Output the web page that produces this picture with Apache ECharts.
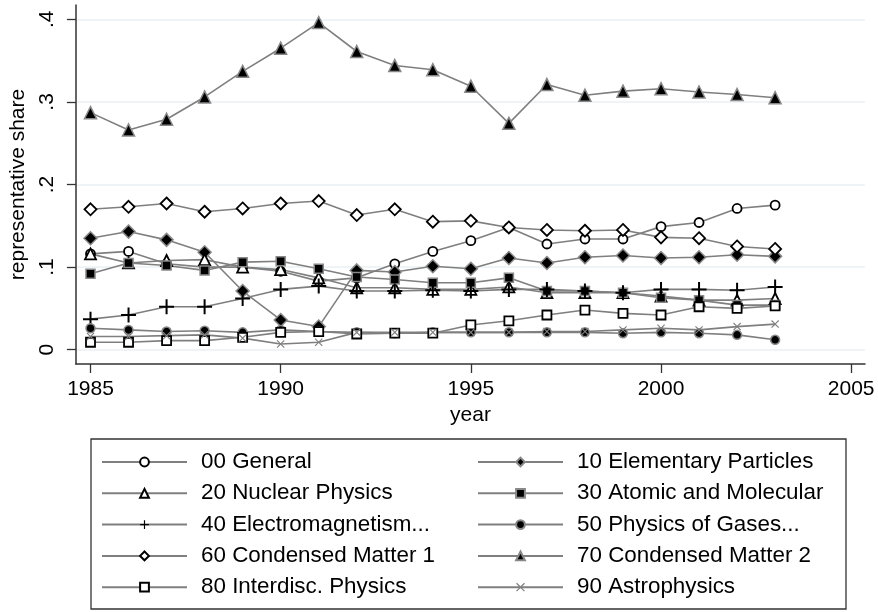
<!DOCTYPE html>
<html lang="en">
<head>
<meta charset="UTF-8">
<title>Representative share by field</title>
<script src="https://cdn.jsdelivr.net/npm/echarts@6/dist/echarts.min.js"></script>
<style>
  html, body { margin: 0; padding: 0; background: #fff; }
  #main { width: 878px; height: 612px; }
</style>
</head>
<body>
<div id="main"></div>
<script>
// years 1985..2003
var years = [1985, 1986, 1987, 1988, 1989, 1990, 1991, 1992, 1993, 1994, 1995, 1996, 1997, 1998, 1999, 2000, 2001, 2002, 2003];

var general      = [0.116, 0.119, 0.104, 0.100, 0.100, 0.095, 0.083, 0.087, 0.104, 0.119, 0.132, 0.148, 0.128, 0.134, 0.134, 0.149, 0.154, 0.171, 0.175];
var elementary   = [0.135, 0.143, 0.133, 0.118, 0.071, 0.036, 0.028, 0.096, 0.094, 0.101, 0.098, 0.111, 0.105, 0.112, 0.114, 0.111, 0.112, 0.115, 0.113];
var nuclear      = [0.116, 0.105, 0.108, 0.109, 0.100, 0.097, 0.087, 0.075, 0.075, 0.073, 0.073, 0.076, 0.069, 0.069, 0.069, 0.065, 0.060, 0.060, 0.062];
var atomic       = [0.092, 0.105, 0.102, 0.096, 0.106, 0.107, 0.098, 0.088, 0.085, 0.081, 0.081, 0.087, 0.071, 0.071, 0.069, 0.063, 0.060, 0.054, 0.054];
var electro      = [0.037, 0.042, 0.052, 0.052, 0.062, 0.073, 0.077, 0.071, 0.071, 0.072, 0.071, 0.073, 0.073, 0.071, 0.069, 0.073, 0.073, 0.072, 0.076];
var gases        = [0.026, 0.024, 0.022, 0.023, 0.021, 0.024, 0.022, 0.021, 0.020, 0.021, 0.021, 0.021, 0.021, 0.021, 0.020, 0.021, 0.020, 0.018, 0.012];
var condensed1   = [0.170, 0.173, 0.177, 0.167, 0.171, 0.177, 0.180, 0.163, 0.170, 0.155, 0.156, 0.148, 0.145, 0.144, 0.145, 0.136, 0.135, 0.125, 0.122];
var condensed2   = [0.287, 0.266, 0.279, 0.306, 0.337, 0.365, 0.396, 0.361, 0.344, 0.339, 0.319, 0.274, 0.321, 0.308, 0.313, 0.316, 0.312, 0.309, 0.305];
var interdisc    = [0.009, 0.009, 0.011, 0.011, 0.015, 0.021, 0.022, 0.019, 0.020, 0.020, 0.030, 0.035, 0.042, 0.048, 0.044, 0.042, 0.052, 0.050, 0.053];
var astro        = [0.016, 0.016, 0.017, 0.018, 0.014, 0.007, 0.009, 0.021, 0.021, 0.021, 0.021, 0.021, 0.022, 0.022, 0.024, 0.026, 0.024, 0.028, 0.031];

var yearTicks  = [1985, 1990, 1995, 2000, 2005];
var shareTicks = [0, 0.1, 0.2, 0.3, 0.4];

var leftNames  = ['00 General', '20 Nuclear Physics', '40 Electromagnetism...', '60 Condensed Matter 1', '80 Interdisc. Physics'];
var rightNames = ['10 Elementary Particles', '30 Atomic and Molecular', '50 Physics of Gases...', '70 Condensed Matter 2', '90 Astrophysics'];

var FONT = '"Liberation Sans", Arial, Helvetica, sans-serif';
var LINE = '#7f7f7f';
var plusPath  = 'path://M6.5,0h2v6.5h6.5v2h-6.5v6.5h-2v-6.5h-6.5v-2h6.5z';
var crossPath = 'path://M0,1L1,0L5,4L9,0L10,1L6,5L10,9L9,10L5,6L1,10L0,9L4,5z';

var hollow = { color: '#fff', borderColor: '#000', borderWidth: 1.8 };
var filled = { color: '#000', borderColor: '#888', borderWidth: 1.5 };

function pairs(vals) {
  return years.map(function (y, i) { return [y, vals[i]]; });
}

function line(name, vals, symbol, size, itemStyle) {
  return {
    name: name,
    type: 'line',
    data: pairs(vals),
    symbol: symbol,
    symbolSize: size,
    showAllSymbol: true,
    itemStyle: itemStyle,
    lineStyle: { color: LINE, width: 1.6 },
    emphasis: { disabled: true }
  };
}

var chart = echarts.init(document.getElementById('main'));

var legendBase = {
  orient: 'vertical',
  top: 451,
  padding: 0,
  itemWidth: 85,
  itemHeight: 11,
  itemGap: 9.3,
  selectedMode: false,
  textStyle: { fontFamily: FONT, fontSize: 22.4, color: '#000', lineHeight: 22, padding: [0, 0, 0, 9] }
};

chart.setOption({
  animation: false,
  backgroundColor: '#fff',
  grid: { left: 71, top: 5, right: 13, bottom: 248, containLabel: false },
  xAxis: {
    type: 'value',
    min: 1984.616,
    max: 2005.363,
    name: 'year',
    nameLocation: 'middle',
    nameGap: 38,
    nameTextStyle: { fontFamily: FONT, fontSize: 21, color: '#000' },
    axisLine: { show: true, onZero: false, lineStyle: { color: '#333', width: 1.5 } },
    axisTick: { show: true, length: 9, customValues: yearTicks, lineStyle: { color: '#333', width: 1.3 } },
    axisLabel: {
      customValues: yearTicks, margin: 15, fontFamily: FONT, fontSize: 21, color: '#000',
      formatter: function (v) { return String(Math.round(v)); }
    },
    splitLine: { show: false }
  },
  yAxis: {
    type: 'value',
    min: -0.0173,
    max: 0.4173,
    name: 'representative share',
    nameLocation: 'middle',
    nameGap: 42,
    nameTextStyle: { fontFamily: FONT, fontSize: 21, color: '#000' },
    axisLine: { show: true, onZero: false, lineStyle: { color: '#333', width: 1.5 } },
    axisTick: { show: true, length: 9, customValues: shareTicks, lineStyle: { color: '#333', width: 1.3 } },
    axisLabel: {
      customValues: shareTicks,
      rotate: 90,
      margin: 18,
      fontFamily: FONT, fontSize: 21, color: '#000',
      formatter: function (v) { return v === 0 ? '0' : String(+v.toFixed(2)).replace(/^0/, ''); }
    },
    splitLine: { show: true, lineStyle: { color: '#eaf1f3', width: 1.5 } }
  },
  legend: [
    Object.assign({}, legendBase, { left: 101, data: leftNames }),
    Object.assign({}, legendBase, { left: 477, data: rightNames })
  ],
  graphic: [{
    type: 'rect',
    shape: { x: 91, y: 439, width: 755, height: 170 },
    style: { fill: 'none', stroke: '#333', lineWidth: 1.3 },
    silent: true
  }],
  series: [
    line('00 General', general, 'circle', 9, hollow),
    line('10 Elementary Particles', elementary, 'diamond', 13, filled),
    line('20 Nuclear Physics', nuclear, 'triangle', 11, hollow),
    line('30 Atomic and Molecular', atomic, 'rect', 9, filled),
    line('40 Electromagnetism...', electro, plusPath, 15, { color: '#000' }),
    line('50 Physics of Gases...', gases, 'circle', 9, filled),
    line('60 Condensed Matter 1', condensed1, 'diamond', 12, hollow),
    line('70 Condensed Matter 2', condensed2, 'triangle', 12, filled),
    line('80 Interdisc. Physics', interdisc, 'rect', 9, hollow),
    line('90 Astrophysics', astro, crossPath, 8, { color: '#808080' })
  ]
});
</script>
</body>
</html>
